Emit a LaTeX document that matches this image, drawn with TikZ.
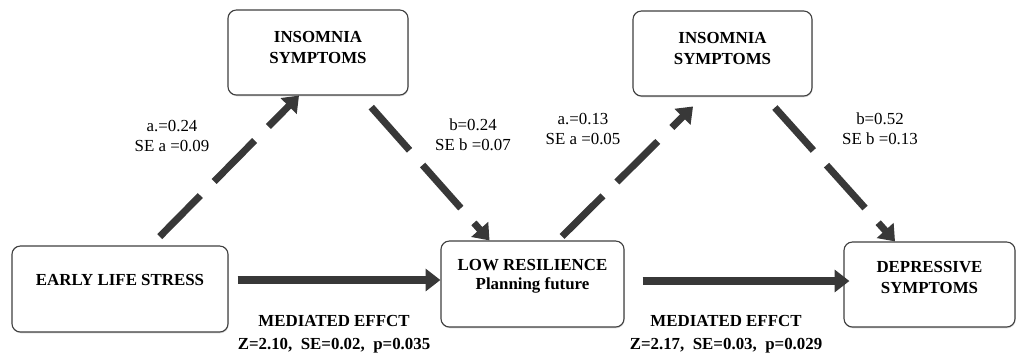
\documentclass[tikz,border=0pt,12pt]{standalone}
\usepackage{fontspec}
\setmainfont{Liberation Serif}
\usetikzlibrary{arrows.meta,calc,shadows}
\definecolor{arrowgray}{HTML}{383838}
\begin{document}
\begin{tikzpicture}[x=0.025cm,y=-0.025cm,
    varbox/.style={draw=black!75,line width=0.8pt,rounded corners=6pt,fill=white,
      align=center,font=\bfseries,text depth=10pt,
      drop shadow={opacity=0.3,shadow xshift=0.4pt,shadow yshift=-0.9pt}},
    effect/.style={draw=arrowgray,line width=5pt,-{Triangle[length=10.5pt,width=15.5pt]}},
    indirect/.style={effect,dash pattern=on 41pt off 14pt},
    coef/.style={align=center}]
  \useasboundingbox (0,0) rectangle (1017,356);

  % variables
  \node [varbox,minimum width=4.5cm,minimum height=2.125cm,text depth=7pt] (ins1) at (318,52.5) {INSOMNIA\\SYMPTOMS};
  \node [varbox,minimum width=4.475cm,minimum height=2.125cm,text depth=7pt] (ins2) at (722.5,53.5) {INSOMNIA\\SYMPTOMS};
  \node [varbox,minimum width=5.4cm,minimum height=2.15cm,text depth=13pt] (els) at (120,289) {EARLY LIFE STRESS};
  \node [varbox,minimum width=4.575cm,minimum height=2.15cm,text depth=14pt] (res) at (532.5,284) {LOW RESILIENCE\\[-1pt]Planning future};
  \node [varbox,minimum width=4.275cm,minimum height=2.125cm] (dep) at (929.5,284.5) {DEPRESSIVE\\SYMPTOMS};

  % paths
  \draw [indirect,shorten <=12.5pt*0.71] ($(els.north)+(31,0)$) -- ($(ins1.south)+(-19,0)$);
  \draw [indirect,shorten <=11pt] ($(ins1.south)+(43,0)$) -- ($(res.north)+(-43,0)$);
  \draw [indirect,shorten <=4pt,shorten >=10pt] ($(res.north)+(25.5,0)$) -- ($(ins2.south)+(-19.5,0)$);
  \draw [indirect,shorten <=10.5pt] ($(ins2.south)+(42.5,0)$) -- ($(dep.north)+(-34.5,0)$);
  \draw [effect] ($(els.east)+(9,-9)$) -- ($(res.west)+(0,-4)$);
  \draw [effect] ($(res.east)+(18,-3)$) -- ($(dep.west)+(6,-3.5)$);

  % coefficients
  \node [coef] (a1) at (172,136) {a.=0.24\\SE a =0.09};
  \node [coef] (b1) at (473,135) {b=0.24\\SE b =0.07};
  \node [coef] (a2) at (583,129) {a.=0.13\\SE a =0.05};
  \node [coef] (b2) at (880,129) {b=0.52\\SE b =0.13};
  \node [coef,font=\bfseries] (med1) at (334,334) {MEDIATED EFFCT\\[2pt]Z=2.10,\ \ SE=0.02,\ \ p=0.035};
  \node [coef,font=\bfseries] (med2) at (726,334) {MEDIATED EFFCT\\[2pt]Z=2.17,\ \ SE=0.03,\ \ p=0.029};
\end{tikzpicture}
\end{document}
